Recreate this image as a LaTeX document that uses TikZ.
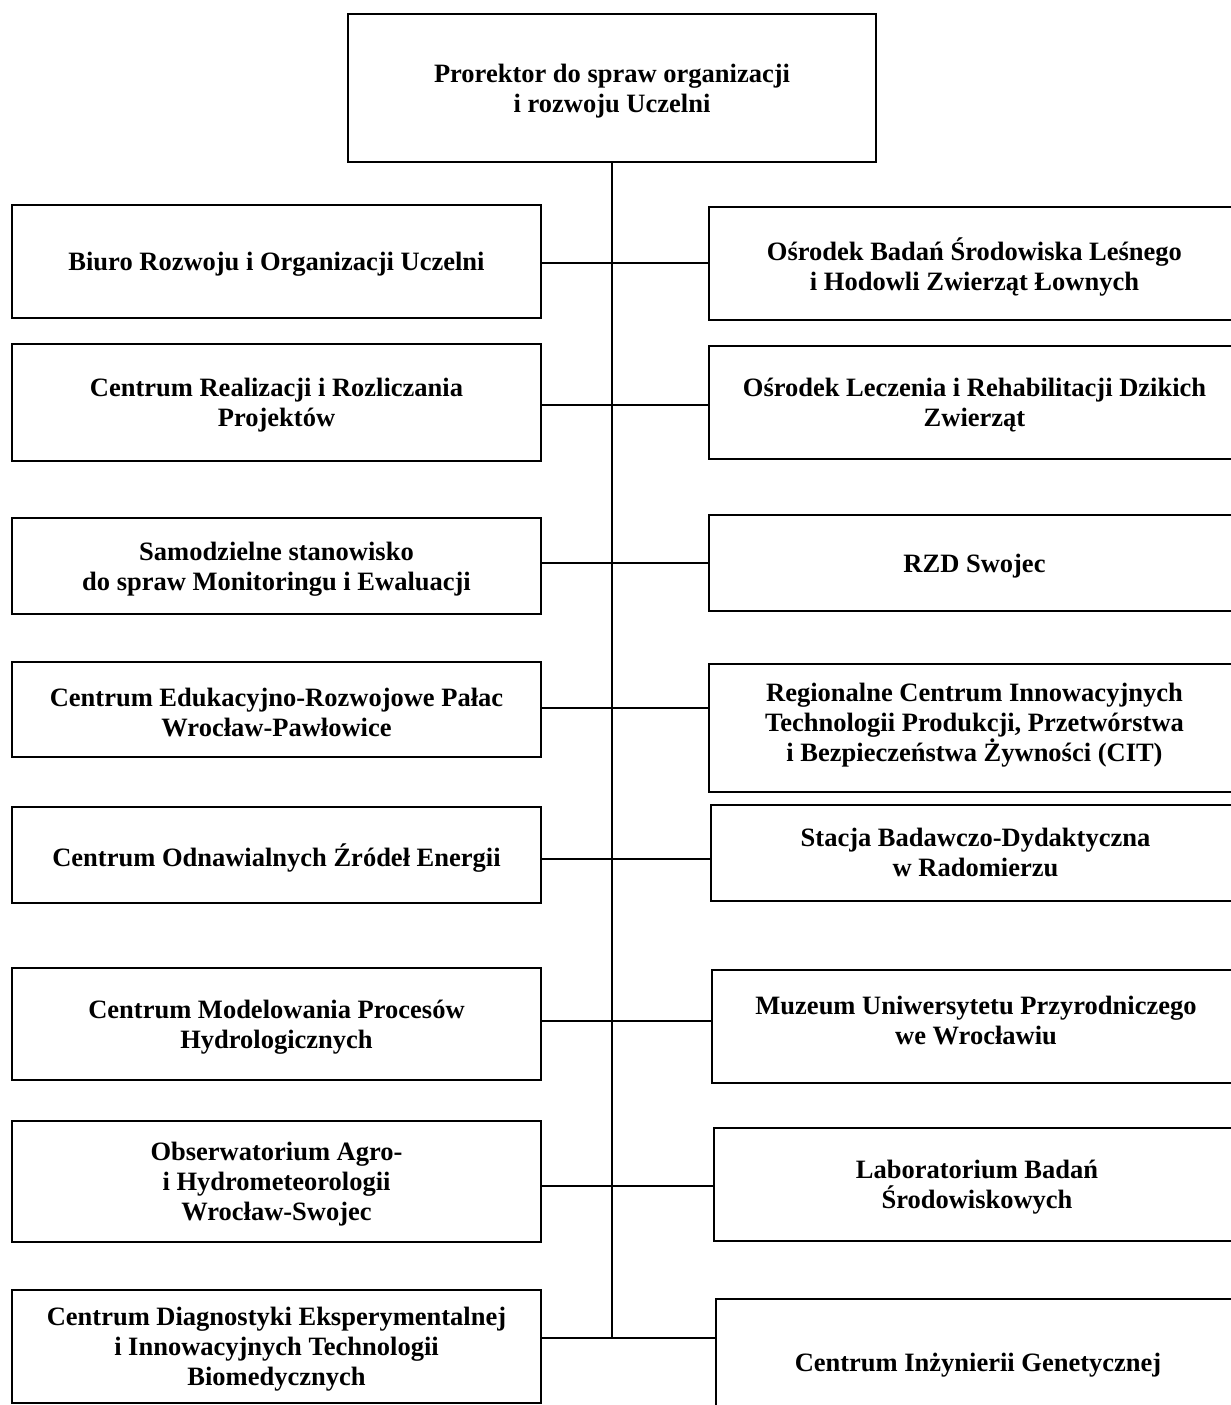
\documentclass[tikz,border=0pt]{standalone}
\usepackage{fontspec}
\setmainfont{Liberation Serif}
\begin{document}
\begin{tikzpicture}[x=1pt,y=1pt,
  box/.style={draw=black, line width=2pt, rectangle, inner sep=0pt, outer sep=0pt, anchor=north west},
  lbox/.style={box, minimum width=529pt},
  txt/.style={font=\fontsize{26.5}{30}\selectfont\bfseries, align=center, inner sep=0pt, yshift=-3pt},
  link/.style={line width=1.5pt}]
\useasboundingbox (0,0) rectangle (1231,-1405);
\fill[white] (0,0) rectangle (1231,-1405);
\clip (0,0) rectangle (1231,-1405);
% top
\node[box, minimum width=528pt, minimum height=148pt] (top) at (348,-14) {};
\node[txt] (topt) at (top.center) {Prorektor do spraw organizacji\\ i rozwoju Uczelni};
% left column
\node[lbox, minimum height=113pt] (l1) at (12,-205) {};
\node[txt] (l1t) at (l1.center) {Biuro Rozwoju i Organizacji Uczelni};
\node[lbox, minimum height=117pt] (l2) at (12,-344) {};
\node[txt] (l2t) at (l2.center) {Centrum Realizacji i Rozliczania\\ Projektów};
\node[lbox, minimum height=96pt] (l3) at (12,-518) {};
\node[txt] (l3t) at (l3.center) {Samodzielne stanowisko\\ do spraw Monitoringu i Ewaluacji};
\node[lbox, minimum height=95pt] (l4) at (12,-662) {};
\node[txt] (l4t) at (l4.center) {Centrum Edukacyjno-Rozwojowe Pałac\\ Wrocław-Pawłowice};
\node[lbox, minimum height=96pt] (l5) at (12,-807) {};
\node[txt] (l5t) at (l5.center) {Centrum Odnawialnych Źródeł Energii};
\node[lbox, minimum height=112pt] (l6) at (12,-968) {};
\node[txt] (l6t) at (l6.center) {Centrum Modelowania Procesów\\ Hydrologicznych};
\node[lbox, minimum height=121pt] (l7) at (12,-1121) {};
\node[txt] (l7t) at (l7.center) {Obserwatorium Agro-\\ i Hydrometeorologii\\ Wrocław-Swojec};
\node[lbox, minimum height=113pt] (l8) at (12,-1290) {};
\node[txt] (l8t) at (l8.center) {Centrum Diagnostyki Eksperymentalnej\\ i Innowacyjnych Technologii\\ Biomedycznych};
% right column
\node[box, minimum width=531pt, minimum height=113pt] (r1) at (709,-207) {};
\node[txt] (r1t) at (r1.center) {Ośrodek Badań Środowiska Leśnego\\ i Hodowli Zwierząt Łownych};
\node[box, minimum width=531pt, minimum height=113pt] (r2) at (709,-346) {};
\node[txt] (r2t) at (r2.center) {Ośrodek Leczenia i Rehabilitacji Dzikich\\ Zwierząt};
\node[box, minimum width=531pt, minimum height=96pt] (r3) at (709,-515) {};
\node[txt] (r3t) at (r3.center) {RZD Swojec};
\node[box, minimum width=531pt, minimum height=128pt] (r4) at (709,-664) {};
\node[txt] (r4t) at ([yshift=6pt]r4.center) {Regionalne Centrum Innowacyjnych\\ Technologii Produkcji, Przetwórstwa\\ i Bezpieczeństwa Żywności (CIT)};
\node[box, minimum width=529pt, minimum height=96pt] (r5) at (711,-805) {};
\node[txt] (r5t) at ([yshift=4pt]r5.center) {Stacja Badawczo-Dydaktyczna\\ w Radomierzu};
\node[box, minimum width=528pt, minimum height=113pt] (r6) at (712,-970) {};
\node[txt] (r6t) at ([yshift=9pt]r6.center) {Muzeum Uniwersytetu Przyrodniczego\\ we Wrocławiu};
\node[box, minimum width=526pt, minimum height=113pt] (r7) at (714,-1128) {};
\node[txt] (r7t) at (r7.center) {Laboratorium Badań\\ Środowiskowych};
\node[box, minimum width=524pt, minimum height=126pt] (r8) at (716,-1299) {};
\node[txt] (r8t) at (r8.center) {Centrum Inżynierii Genetycznej};
% spine and junctions
\coordinate (j1) at (612,-263);
\coordinate (j2) at (612,-405);
\coordinate (j3) at (612,-563);
\coordinate (j4) at (612,-708);
\coordinate (j5) at (612,-859);
\coordinate (j6) at (612,-1021);
\coordinate (j7) at (612,-1186);
\coordinate (j8) at (612,-1338);
\draw[link] (top.south) -- (j8);
\foreach \i in {1,...,8}{
  \draw[link] (l\i.east |- j\i) -- (j\i) -- (r\i.west |- j\i);
}
\end{tikzpicture}
\end{document}
